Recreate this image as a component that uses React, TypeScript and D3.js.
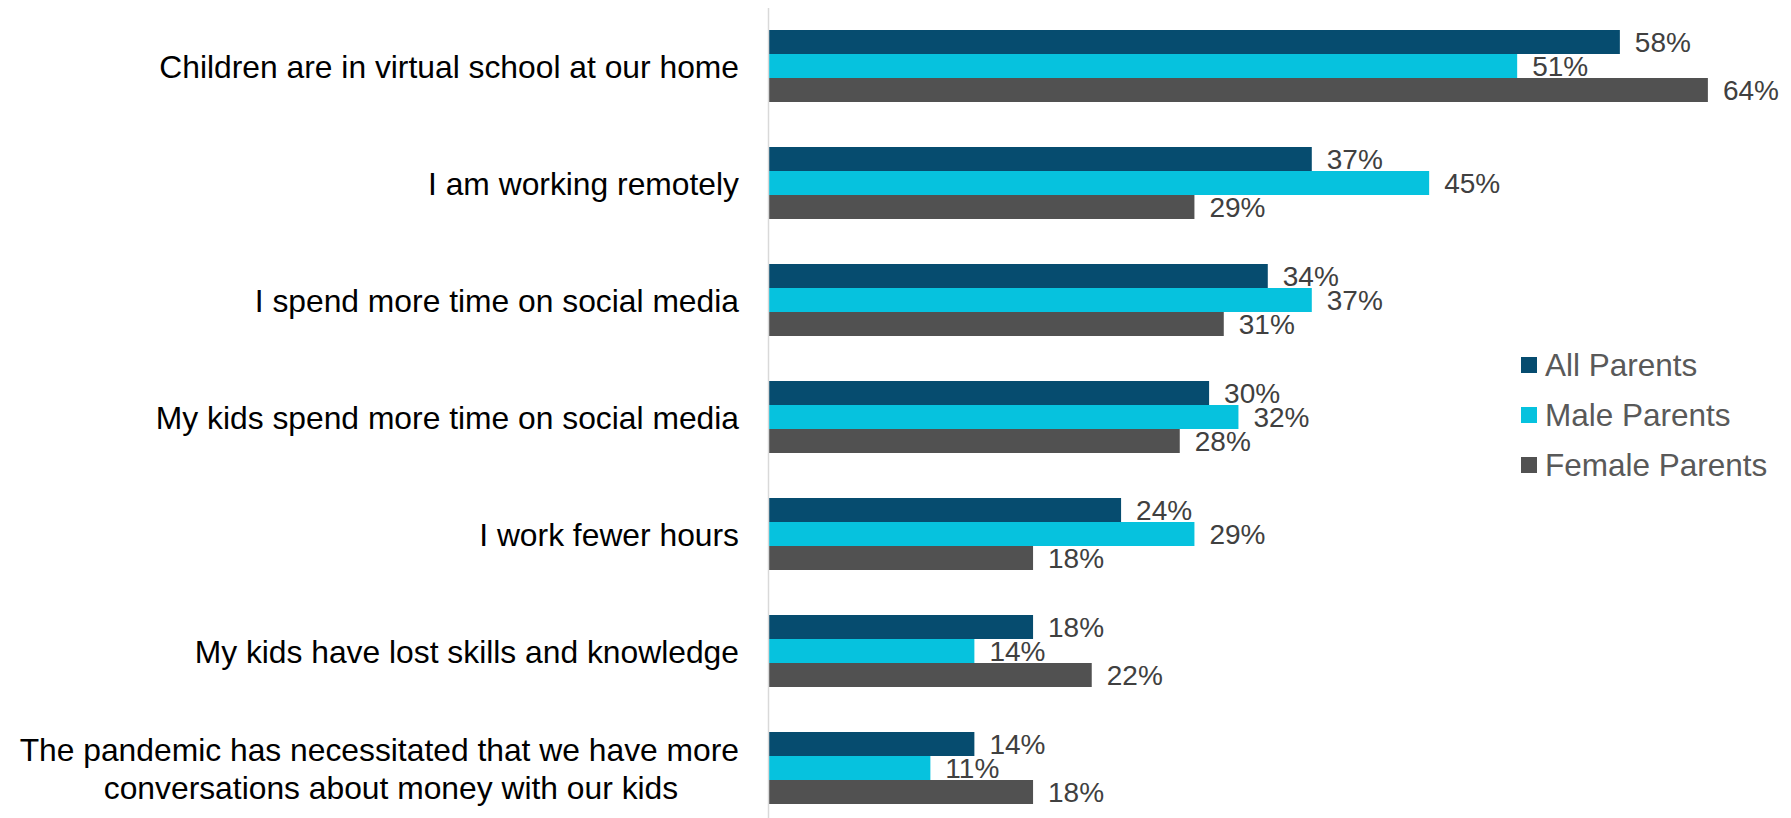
import React from "react";
import * as d3 from "d3";

const categories: string[][] = [
  ["Children are in virtual school at our home"],
  ["I am working remotely"],
  ["I spend more time on social media"],
  ["My kids spend more time on social media"],
  ["I work fewer hours"],
  ["My kids have lost skills and knowledge"],
  ["The pandemic has necessitated that we have more", "conversations about money with our kids"],
];
const seriesNames = ["All Parents", "Male Parents", "Female Parents"];
const allParents = [58, 37, 34, 30, 24, 18, 14];
const maleParents = [51, 45, 37, 32, 29, 14, 11];
const femaleParents = [64, 29, 31, 28, 18, 22, 18];
const colors = ["#064C6F", "#06C2DE", "#515151"];

const W = 1791;
const H = 818;

export default function App() {
  const series = [allParents, maleParents, femaleParents];
  const keys = categories.map((c, i) => String(i));
  const p = 45 / 117;
  const y = d3.scaleBand<string>().domain(keys).range([7.5, 826.5]).paddingInner(p).paddingOuter(p / 2);
  const yInner = d3.scaleBand<string>().domain(seriesNames).range([0, y.bandwidth()]).padding(0);
  const x = d3.scaleLinear().domain([0, 70]).range([769, 769 + 70 * 14.67]);
  const font = "'Liberation Sans', Arial, sans-serif";

  return (
    <svg width={W} height={H} style={{ position: "absolute", left: 0, top: 0, background: "#fff" }} fontFamily={font}>
      <rect x={0} y={0} width={W} height={H} fill="#fff" />
      {keys.map((k, i) => {
        const g0 = y(k)!;
        const cy = g0 + y.bandwidth() / 2;
        const lines = categories[i];
        const lh = 38;
        return (
          <g key={k}>
            {series.map((vals, s) => {
              const by = g0 + yInner(seriesNames[s])!;
              const bh = yInner.bandwidth();
              return (
                <g key={s}>
                  <rect x={x(0)} y={by} width={x(vals[i]) - x(0)} height={bh} fill={colors[s]} />
                  <text x={x(vals[i]) + 15} y={by + bh / 2 + 10} fontSize={28} fill="#404040">
                    {vals[i]}%
                  </text>
                </g>
              );
            })}
            {lines.length === 1 ? (
              <text x={739} y={cy + 11.5} fontSize={31.8} textAnchor="end" fill="#000">
                {lines[0]}
              </text>
            ) : (
              lines.map((ln, j) => (
                <text
                  key={j}
                  x={j === 0 ? 739 : 391}
                  y={cy + (j - (lines.length - 1) / 2) * lh + 11.5}
                  fontSize={31.8}
                  textAnchor={j === 0 ? "end" : "middle"}
                  fill="#000"
                >
                  {ln}
                </text>
              ))
            )}
          </g>
        );
      })}
      <line x1={768.5} x2={768.5} y1={8} y2={H} stroke="#d9d9d9" strokeWidth={1.5} />
      {seriesNames.map((n, s) => {
        const cy = 365 + s * 50;
        return (
          <g key={n}>
            <rect x={1521} y={cy - 8} width={16} height={16} fill={colors[s]} />
            <text x={1545} y={cy + 11} fontSize={31.5} fill="#595959">
              {n}
            </text>
          </g>
        );
      })}
    </svg>
  );
}
